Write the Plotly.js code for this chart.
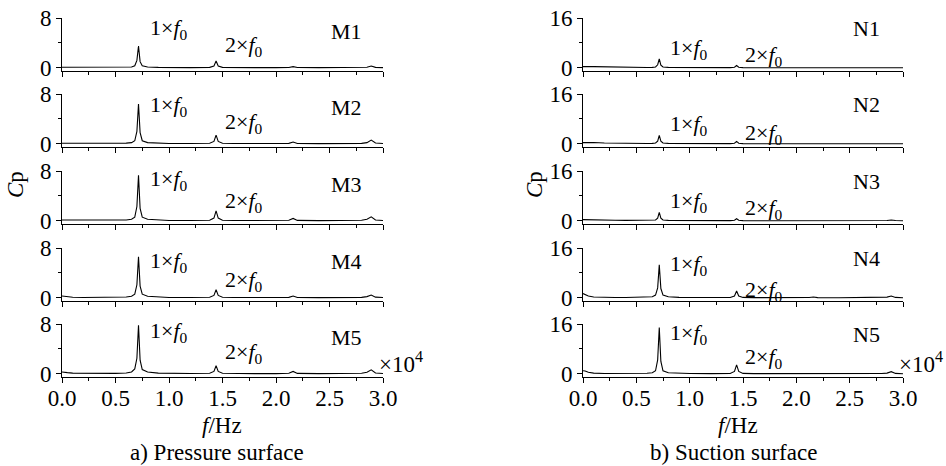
<!DOCTYPE html>
<html>
<head>
<meta charset="utf-8">
<script src="https://cdn.plot.ly/plotly-3.0.1.min.js"></script>
<style>html,body{margin:0;padding:0;background:#fff;}#chart{width:946px;height:466px;}</style>
</head>
<body>
<div id="chart"></div>
<script>
// Frequency (×10^4 Hz)
const freq = [0, 0.02, 0.05, 0.1, 0.2, 0.3, 0.4, 0.5, 0.6, 0.65, 0.68, 0.70, 0.715, 0.73, 0.75, 0.8, 0.9, 1.0, 1.2, 1.38, 1.42, 1.44, 1.46, 1.5, 1.6, 1.8, 2.0, 2.12, 2.16, 2.2, 2.4, 2.6, 2.8, 2.85, 2.89, 2.93, 3.0];

// Pressure surface Cp spectra
const M1 = [0.1,0.1,0.08,0.06,0.05,0.05,0.05,0.06,0.1,0.15,0.35,1.2,3.5,1.0,0.35,0.15,0.08,0.05,0.04,0.08,0.3,1.1,0.3,0.08,0.04,0.04,0.04,0.06,0.2,0.05,0.04,0.04,0.05,0.1,0.3,0.08,0.04];
const M2 = [0.1,0.1,0.08,0.06,0.05,0.05,0.05,0.07,0.12,0.2,0.5,2.0,6.4,1.8,0.5,0.2,0.1,0.06,0.05,0.1,0.4,1.4,0.4,0.1,0.05,0.04,0.04,0.08,0.3,0.06,0.04,0.05,0.08,0.2,0.6,0.15,0.05];
const M3 = [0.15,0.15,0.12,0.1,0.08,0.06,0.06,0.08,0.15,0.25,0.6,2.3,7.3,2.0,0.6,0.25,0.12,0.07,0.05,0.1,0.45,1.6,0.45,0.1,0.05,0.04,0.04,0.1,0.4,0.08,0.04,0.05,0.1,0.25,0.65,0.15,0.05];
const M4 = [0.3,0.25,0.15,0.1,0.07,0.06,0.06,0.08,0.15,0.25,0.6,2.1,6.6,1.9,0.6,0.25,0.12,0.07,0.05,0.1,0.4,1.3,0.4,0.1,0.05,0.04,0.04,0.08,0.3,0.06,0.04,0.05,0.08,0.2,0.45,0.12,0.05];
const M5 = [0.3,0.3,0.2,0.12,0.08,0.06,0.06,0.08,0.15,0.3,0.8,2.5,7.8,2.2,0.7,0.3,0.12,0.07,0.05,0.1,0.4,1.3,0.4,0.1,0.05,0.04,0.04,0.1,0.4,0.08,0.04,0.05,0.1,0.25,0.65,0.15,0.05];

// Suction surface Cp spectra
const N1 = [0.4,0.45,0.45,0.4,0.3,0.2,0.15,0.12,0.12,0.15,0.3,1.0,2.9,0.9,0.3,0.15,0.1,0.08,0.06,0.08,0.2,0.75,0.2,0.08,0.06,0.05,0.05,0.06,0.12,0.06,0.05,0.05,0.06,0.08,0.2,0.08,0.05];
const N2 = [0.4,0.45,0.5,0.45,0.3,0.2,0.15,0.12,0.12,0.15,0.3,0.9,2.7,0.9,0.3,0.15,0.1,0.08,0.06,0.08,0.2,0.8,0.2,0.08,0.06,0.05,0.05,0.06,0.1,0.06,0.05,0.05,0.06,0.08,0.2,0.08,0.05];
const N3 = [0.4,0.4,0.4,0.35,0.3,0.2,0.15,0.12,0.12,0.15,0.3,0.9,2.7,0.9,0.3,0.15,0.1,0.08,0.06,0.08,0.2,0.7,0.2,0.08,0.06,0.05,0.05,0.06,0.12,0.06,0.05,0.05,0.06,0.1,0.3,0.1,0.05];
const N4 = [1.4,1.1,0.6,0.3,0.15,0.12,0.1,0.12,0.2,0.35,0.9,3.2,10.6,3.0,0.9,0.35,0.15,0.1,0.08,0.12,0.6,2.2,0.6,0.15,0.08,0.06,0.06,0.1,0.3,0.08,0.06,0.06,0.1,0.25,0.6,0.15,0.06];
const N5 = [1.0,0.9,0.5,0.25,0.12,0.1,0.08,0.1,0.2,0.35,1.0,4.5,14.9,4.0,1.0,0.35,0.15,0.1,0.08,0.12,0.8,2.9,0.8,0.15,0.08,0.06,0.06,0.08,0.2,0.08,0.06,0.06,0.1,0.25,0.7,0.15,0.06];

const leftNames = ['M1','M2','M3','M4','M5'];
const rightNames = ['N1','N2','N3','N4','N5'];
const leftSeries = [M1,M2,M3,M4,M5];
const rightSeries = [N1,N2,N3,N4,N5];
const xTickVals = [0, 0.5, 1.0, 1.5, 2.0, 2.5, 3.0];
const xTickText = ['0.0','0.5','1.0','1.5','2.0','2.5','3.0'];

const FONT = 'Liberation Serif, Times New Roman, serif';
const W = 946, H = 466;
const tops = [18, 94, 171, 248, 324];
const panelH = 53;
const leftDom = [62/W, 383/W];
const rightDom = [583/W, 903/W];

// text placement (data coords) per panel
const leftF1Y = [6.2, 6.1, 6.5, 5.7, 6.7];
const leftF2Y = [3.5, 3.3, 3.0, 2.7, 3.3];
const rightF1Y = [6.0, 6.0, 6.0, 10.6, 12.8];
const rightF2Y = [3.9, 3.3, 3.7, 2.3, 5.0];

const data = [];
const layout = {
  width: W, height: H,
  margin: {l:0, r:0, t:0, b:0},
  paper_bgcolor: '#fff', plot_bgcolor: '#fff',
  showlegend: false,
  font: {family: FONT, size: 22, color: '#000'},
  annotations: []
};

function addPanel(idx, side, i, y) {
  const n = idx === 1 ? '' : String(idx);
  data.push({x: freq, y: y, type: 'scatter', mode: 'lines',
    line: {color: '#000', width: 1.1}, xaxis: 'x' + n, yaxis: 'y' + n, hoverinfo: 'skip'});
  const top = tops[i];
  const ydom = [1 - (top + panelH)/H, 1 - top/H];
  const isLeft = side === 'L';
  const ymax = isLeft ? 8 : 16;
  const ymin = isLeft ? -0.5 : -1;
  layout['xaxis' + n] = {
    domain: isLeft ? leftDom : rightDom, anchor: 'y' + n,
    range: [0, 3.0], showline: true, linecolor: '#000', linewidth: 1,
    ticks: 'outside', ticklen: 5, tickwidth: 1, tickcolor: '#000',
    tickmode: 'array', tickvals: xTickVals, ticktext: xTickText,
    showticklabels: i === 4, tickfont: {family: FONT, size: 23, color: '#000'},
    ticklabelstandoff: -5,
    minor: {dtick: 0.25, tick0: 0, ticks: 'outside', ticklen: 3, tickwidth: 1, tickcolor: '#000', showgrid: false},
    showgrid: false, zeroline: false, fixedrange: true
  };
  layout['yaxis' + n] = {
    domain: ydom, anchor: 'x' + n,
    range: [ymin, ymax], showline: true, linecolor: '#000', linewidth: 1,
    ticks: 'outside', ticklen: 5, tickwidth: 1, tickcolor: '#000',
    tickmode: 'linear', tick0: 0, dtick: ymax,
    tickfont: {family: FONT, size: 23, color: '#000'},
    minor: {dtick: ymax/2, tick0: 0, ticks: 'outside', ticklen: 3, tickwidth: 1, tickcolor: '#000', showgrid: false},
    showgrid: false, zeroline: false, fixedrange: true
  };
  const xr = 'x' + n, yr = 'y' + n;
  const txtFont = {family: FONT, size: 22, color: '#000'};
  layout.annotations.push({xref: xr, yref: yr, x: 2.66, y: isLeft ? 5.76 : 12.5,
    text: (isLeft ? leftNames : rightNames)[i], showarrow: false, font: txtFont, xanchor: 'center', yanchor: 'middle'});
  layout.annotations.push({xref: xr, yref: yr, x: 0.80, y: (isLeft ? leftF1Y : rightF1Y)[i],
    text: '1×<i>f</i><sub>0</sub>', showarrow: false, font: txtFont, xanchor: 'left', yanchor: 'middle'});
  layout.annotations.push({xref: xr, yref: yr, x: 1.50, y: (isLeft ? leftF2Y : rightF2Y)[i],
    text: '2×<i>f</i><sub>0</sub>', showarrow: false, font: txtFont, xanchor: 'left', yanchor: 'middle'});
}

for (let i = 0; i < 5; i++) addPanel(i + 1, 'L', i, leftSeries[i]);
for (let i = 0; i < 5; i++) addPanel(i + 6, 'R', i, rightSeries[i]);

const pf = {family: FONT, size: 23, color: '#000'};
function paperText(px, py, text, extra) {
  layout.annotations.push(Object.assign({xref: 'paper', yref: 'paper', x: px/W, y: 1 - py/H,
    text: text, showarrow: false, font: pf, xanchor: 'center', yanchor: 'middle'}, extra || {}));
}
paperText(401, 362, '×10<sup>4</sup>');
paperText(921, 362, '×10<sup>4</sup>');
paperText(222, 425, '<i>f</i>/Hz');
paperText(738, 425, '<i>f</i>/Hz');
paperText(217, 452, 'a) Pressure surface');
paperText(733, 452, 'b) Suction surface');
paperText(16, 185, '<i>C</i>p', {textangle: -90});
paperText(535, 185, '<i>C</i>p', {textangle: -90});

Plotly.newPlot('chart', data, layout, {displayModeBar: false, staticPlot: true});
</script>
</body>
</html>
